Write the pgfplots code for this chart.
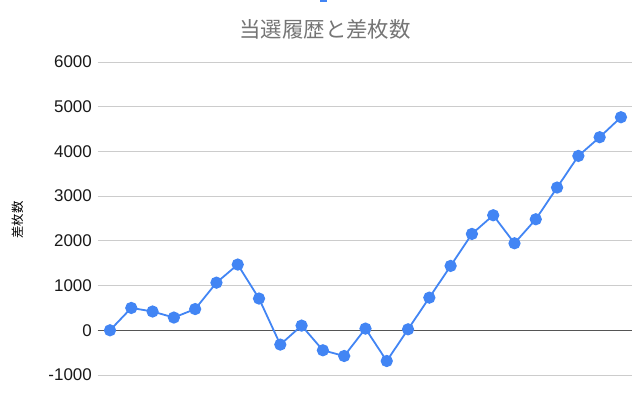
\documentclass[border=0pt]{standalone}
\usepackage{fontspec}
\setmainfont{Liberation Sans}
\newfontfamily\cjk{Noto Sans CJK JP}
\usepackage{pgfplots}
\pgfplotsset{compat=1.18}
\definecolor{gblue}{HTML}{4285F4}
\definecolor{gridc}{HTML}{CCCCCC}
\definecolor{titlec}{HTML}{757575}
\definecolor{zeroc}{HTML}{555555}
\begin{document}
\begin{tikzpicture}[x=1bp,y=1bp]
\useasboundingbox (0,0) rectangle (635,401);
\fill[gblue] (320,399) rectangle (327,401);
\node[font=\cjk\fontsize{21.5}{24}\selectfont, text=titlec] at (325,372) {当選履歴と差枚数};
\node[font=\cjk\fontsize{12.5}{14}\selectfont, rotate=90] at (18,181) {差枚数};
\begin{axis}[
  at={(97.5bp,26bp)}, anchor=south west,
  scale only axis, width=534.5bp, height=313bp,
  xmin=0.413, xmax=25.52, ymin=-1000, ymax=6000,
  axis line style={draw=none},
  xtick=\empty,
  ytick={-1000,0,1000,2000,3000,4000,5000,6000},
  major tick length=0pt,
  ymajorgrids, grid style={draw=gridc, line width=0.8bp},
  extra y ticks={0}, extra y tick labels={},
  extra y tick style={grid style={draw=zeroc, line width=1bp}},
  yticklabel style={anchor=east, inner sep=0pt, xshift=-5.5bp, font=\fontsize{17}{20}\selectfont, text=black!90},
  /pgf/number format/assume math mode=true,
  /pgf/number format/1000 sep={},
  clip=false,
]
\addplot[gblue, line width=1.8bp, mark=*, mark size=5.2bp, mark options={fill=gblue, draw=none, solid}] coordinates {
(1,0) (2,500) (3,420) (4,285) (5,475) (6,1065) (7,1470) (8,710) (9,-320)
(10,105) (11,-447) (12,-575) (13,38) (14,-687) (15,22) (16,730) (17,1440)
(18,2155) (19,2573) (20,1946) (21,2483) (22,3192) (23,3900) (24,4318) (25,4765)
};
\end{axis}
\end{tikzpicture}
\end{document}
